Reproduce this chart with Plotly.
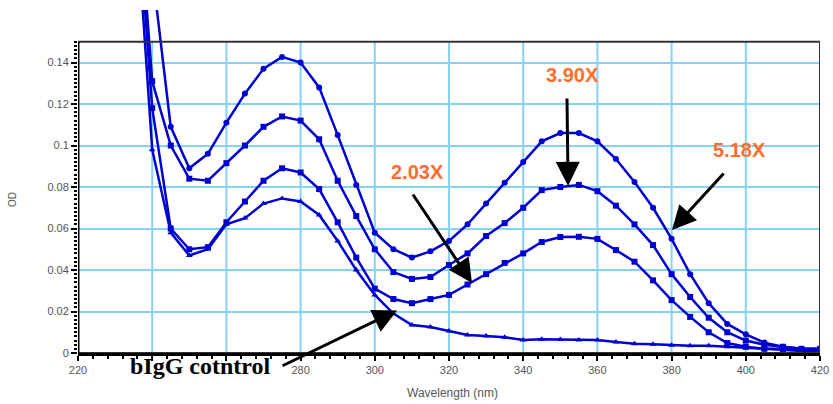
import plotly.graph_objects as go

# ---------------- data ----------------
wavelength = [235, 240, 245, 250, 255, 260, 265, 270, 275, 280, 285, 290, 295, 300, 305, 310,
              315, 320, 325, 330, 335, 340, 345, 350, 355, 360, 365, 370, 375, 380, 385, 390,
              395, 400, 405, 410, 415, 420]

od_518x = [0.26, 0.185, 0.109, 0.089, 0.096, 0.111, 0.125, 0.137, 0.1427, 0.140, 0.128, 0.105,
           0.081, 0.058, 0.050, 0.046, 0.049, 0.054, 0.062, 0.072, 0.082, 0.092, 0.102, 0.106,
           0.106, 0.102, 0.0935, 0.0824, 0.070, 0.055, 0.038, 0.024, 0.014, 0.009, 0.005, 0.003,
           0.002, 0.002]
od_390x = [0.25, 0.131, 0.100, 0.084, 0.083, 0.0915, 0.100, 0.109, 0.114, 0.112, 0.103, 0.083,
           0.066, 0.050, 0.039, 0.0357, 0.0366, 0.0424, 0.048, 0.0564, 0.0626, 0.070, 0.0785,
           0.080, 0.081, 0.078, 0.071, 0.062, 0.052, 0.038, 0.027, 0.017, 0.010, 0.006, 0.004,
           0.003, 0.002, 0.002]
od_203x = [0.24, 0.118, 0.060, 0.050, 0.051, 0.063, 0.073, 0.083, 0.089, 0.087, 0.079, 0.063,
           0.046, 0.031, 0.026, 0.024, 0.026, 0.028, 0.033, 0.038, 0.0434, 0.048, 0.0535, 0.0559,
           0.056, 0.055, 0.0496, 0.044, 0.035, 0.0255, 0.0174, 0.010, 0.0048, 0.003, 0.002,
           0.0015, 0.001, 0.001]
od_control = [0.23, 0.098, 0.058, 0.047, 0.050, 0.062, 0.065, 0.072, 0.0745, 0.073, 0.0665, 0.054,
              0.040, 0.028, 0.019, 0.0135, 0.0125, 0.0106, 0.0087, 0.0082, 0.0076, 0.0063, 0.0066,
              0.0065, 0.0063, 0.0063, 0.0053, 0.0045, 0.0042, 0.0037, 0.0035, 0.0035, 0.003,
              0.0025, 0.002, 0.002, 0.0015, 0.0015]

series_names = ["5.18X", "3.90X", "2.03X", "bIgG control"]
series_symbols = ["circle", "square", "square", "triangle-up"]

x_ticks = [220, 240, 260, 280, 300, 320, 340, 360, 380, 400, 420]
# 240 and 260 labels are hidden behind the "bIgG cotntrol" caption in the original
x_ticklabels = ["220", "", "", "280", "300", "320", "340", "360", "380", "400", "420"]
y_ticks = [0, 0.02, 0.04, 0.06, 0.08, 0.1, 0.12, 0.14]
y_ticklabels = ["0", "0.02", "0.04", "0.06", "0.08", "0.1", "0.12", "0.14"]

X_MIN, X_MAX = 220, 420
Y_BOX_TOP = 0.15
Y_AXIS_TOP = 0.1653   # axis extends a bit above the frame so curves run past it

LINE_BLUE = "#0000d0"
GRID = "#86d2f2"
ORANGE = "#ff6d2e"

fig = go.Figure()
for vals, name, sym in zip([od_518x, od_390x, od_203x, od_control], series_names, series_symbols):
    fig.add_trace(go.Scatter(
        x=wavelength, y=vals, mode="lines+markers", name=name,
        line=dict(color=LINE_BLUE, width=2.5),
        marker=dict(symbol=sym, size=6, color=LINE_BLUE),
        showlegend=False, hoverinfo="skip",
    ))

shapes = []
# vertical grid lines (only inside the frame)
for xv in x_ticks[1:-1]:
    shapes.append(dict(type="line", xref="x", yref="y", x0=xv, x1=xv, y0=0, y1=Y_BOX_TOP,
                       line=dict(color=GRID, width=2), layer="below"))
# frame
shapes.append(dict(type="rect", xref="x", yref="y", x0=X_MIN, x1=X_MAX, y0=0, y1=Y_BOX_TOP,
                   line=dict(color="#333333", width=2), layer="above"))
shapes.append(dict(type="line", xref="x", yref="y", x0=X_MIN, x1=X_MIN, y0=0, y1=Y_BOX_TOP,
                   line=dict(color="black", width=3), layer="above"))

minor_y = [round(i * 0.002, 4) for i in range(0, 76)]

fig.update_layout(
    width=833, height=404,
    margin=dict(l=78, r=13, t=10, b=51),
    paper_bgcolor="white", plot_bgcolor="white",
    font=dict(family="Liberation Sans, Arial, sans-serif", color="#555555", size=10),
    shapes=shapes,
    xaxis=dict(
        range=[X_MIN, X_MAX], tickmode="array", tickvals=x_ticks, ticktext=x_ticklabels,
        automargin=False,
        ticks="outside", ticklen=5, tickwidth=2, tickcolor="black",
        showgrid=False, zeroline=False,
        showline=True, linecolor="black", linewidth=3,
        minor=dict(dtick=4, tick0=220, ticks="outside", ticklen=3, tickwidth=2, tickcolor="black"),
        tickfont=dict(size=11, color="#555555"),
    ),
    yaxis=dict(
        range=[0, Y_AXIS_TOP], tickmode="array", tickvals=y_ticks, ticktext=y_ticklabels,
        automargin=False,
        ticks="outside", ticklen=6, tickwidth=2, tickcolor="black",
        showgrid=True, gridcolor=GRID, gridwidth=2, zeroline=False, showline=False,
        minor=dict(tickmode="array", tickvals=minor_y, ticks="outside", ticklen=3,
                   tickwidth=1.5, tickcolor="black", showgrid=False),
        tickfont=dict(size=11, color="#555555"),
    ),
)

PLOT_H = 404 - 10 - 51
PLOT_W = 833 - 78 - 13
annotations = [
    dict(x=353.4, y=0.134, text="<b>3.90X</b>", showarrow=False,
         font=dict(size=20, color=ORANGE, family="Liberation Sans, Arial")),
    dict(x=311.4, y=0.0872, text="<b>2.03X</b>", showarrow=False,
         font=dict(size=20, color=ORANGE, family="Liberation Sans, Arial")),
    dict(x=398.4, y=0.0978, text="<b>5.18X</b>", showarrow=False,
         font=dict(size=20, color=ORANGE, family="Liberation Sans, Arial")),
    # axis titles
    dict(xref="paper", yref="paper", x=(452 - 78) / PLOT_W, y=-(393 - 353) / PLOT_H,
         xanchor="center", yanchor="middle",
         text="Wavelength (nm)", showarrow=False, font=dict(size=12, color="#555555")),
    dict(xref="paper", yref="paper", x=-(78 - 12) / PLOT_W, y=(353 - 200) / PLOT_H,
         xanchor="center", yanchor="middle",
         text="OD", textangle=-90, showarrow=False, font=dict(size=10, color="#555555")),
]
arrows = [
    (352.1, 0.0805, 351.8, 0.1234),
    (326.2, 0.0337, 310.0, 0.0771),
    (380.1, 0.0593, 394.4, 0.0872),
]
for hx, hy, tx, ty in arrows:
    annotations.append(dict(x=hx, y=hy, ax=tx, ay=ty, xref="x", yref="y", axref="x", ayref="y",
                            text="", showarrow=True, arrowhead=2, arrowsize=1.6, arrowwidth=3,
                            arrowcolor="black"))
# control arrow: tail given as a pixel offset from the head (tail sits below the axis)
annotations.append(dict(x=306.0, y=0.0205, xref="x", yref="y", ax=-116, ay=56,
                        text="", showarrow=True, arrowhead=2, arrowsize=1.6, arrowwidth=3,
                        arrowcolor="black"))
annotations.append(
    dict(xref="x", yref="paper", x=252.9, y=-(366 - 353) / PLOT_H, text="<b>bIgG cotntrol</b>",
         xanchor="center", yanchor="middle", showarrow=False,
         font=dict(size=24, color="black", family="Liberation Serif, Times New Roman, serif")))
fig.update_layout(annotations=annotations)

fig.write_html("out.html", config={"displayModeBar": False},
               post_script="document.body.style.margin='0px';")
